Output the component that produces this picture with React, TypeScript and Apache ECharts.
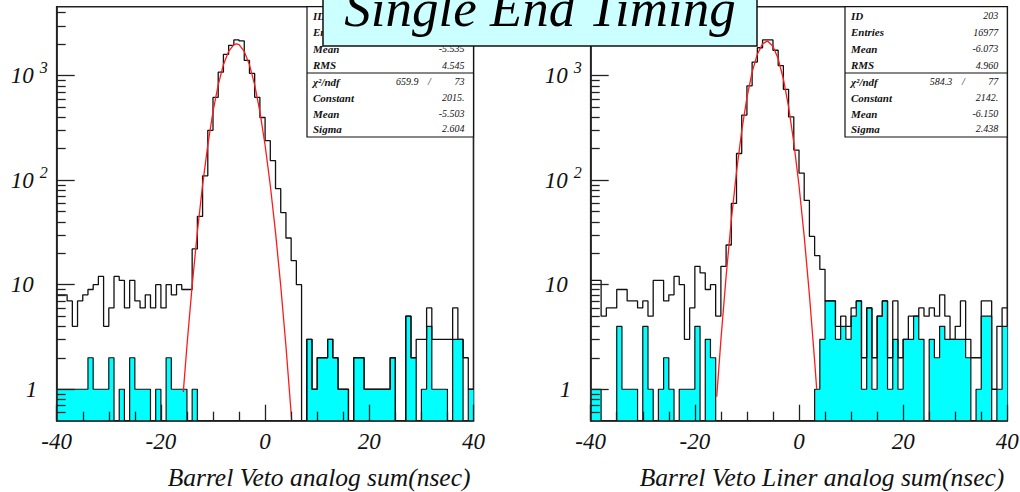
import React, { useEffect, useRef } from "react";
import * as echarts from "echarts";

// ---------- data ----------
const X_MIN = -40;
const X_MAX = 40;
const X_LABEL_STEP = 20;
const BIN_EDGES = Array.from({ length: 80 }, (_, i) => X_MIN + i); // 1 ns bins
const COUNT_MIN = 0.5;
const COUNT_MAX = 4570;
const DECADE_LABELS = [0, 1, 2, 3]; // 1, 10, 10^2, 10^3

// Left: Barrel Veto analog sum
const LEFT_TOTAL = [
  8, 8, 7, 4, 7, 8, 9, 10, 12, 4,
  6, 12, 11, 6, 11, 7, 6, 8, 6, 10,
  6, 10, 8, 10, 9, 9, 22, 45, 110, 300,
  620, 1080, 1600, 1950, 2200, 2150, 1400, 1050, 620, 398,
  239, 154, 83, 49, 28, 17, 10, 0, 3, 1,
  2, 2, 3, 2, 1, 1, 0, 2, 2, 1,
  1, 1, 1, 1, 2, 0, 0, 5, 2, 3,
  3, 6, 3, 3, 3, 3, 6, 3, 2, 1,
];
const LEFT_CYAN = [
  1, 1, 1, 1, 1, 1, 2, 1, 1, 1,
  2, 0, 1, 0, 2, 1, 1, 1, 0, 1,
  0, 2, 1, 1, 1, 0, 1, 0, 0, 0,
  0, 0, 0, 0, 0, 0, 0, 0, 0, 0,
  0, 0, 0, 0, 0, 0, 0, 0, 3, 1,
  2, 2, 3, 2, 1, 1, 0, 2, 2, 1,
  1, 1, 1, 1, 2, 0, 0, 5, 2, 0,
  1, 4, 1, 1, 1, 0, 3, 3, 0, 1,
];
const LEFT_FIT_X = [-15.7, -15, -14, -13, -12, -11, -10, -9, -8, -7, -6, -5.5, -5, -4, -3, -2, -1, 0, 1, 2, 3, 4, 5, 5.1];
const LEFT_FIT_Y = [0.94, 2.61, 9.8, 32, 89.7, 217, 454, 818, 1272, 1708, 1979, 2015, 1978, 1706, 1269, 815, 452, 216, 89, 31.7, 9.75, 2.59, 0.59, 0.5];

// Right: Barrel Veto Liner analog sum
const RIGHT_TOTAL = [
  11, 11, 5, 6, 6, 9, 9, 7, 7, 6,
  7, 5, 11, 11, 7, 8, 12, 10, 3, 6,
  15, 13, 9, 10, 5, 15, 24, 60, 180, 420,
  800, 1350, 1850, 2200, 2200, 1750, 1250, 740, 403, 194,
  117, 64, 29, 19, 14, 7, 7, 4, 5, 4,
  6, 7, 2, 6, 2, 5, 7, 2, 7, 2,
  3, 5, 5, 6, 5, 6, 5, 8, 5, 3,
  4, 7, 3, 2, 2, 7, 7, 1, 4, 6,
];
const RIGHT_CYAN = [
  1, 1, 0, 0, 0, 4, 1, 1, 1, 0,
  4, 1, 0, 1, 2, 1, 0, 1, 1, 1,
  4, 0, 3, 2, 0, 0, 0, 0, 0, 0,
  0, 0, 0, 0, 0, 0, 0, 0, 0, 0,
  0, 0, 0, 1, 3, 7, 7, 3, 4, 3,
  5, 7, 1, 6, 1, 5, 7, 1, 3, 1,
  3, 3, 5, 3, 0, 3, 2, 4, 3, 3,
  3, 3, 2, 0, 1, 5, 5, 0, 1, 4,
];
const RIGHT_FIT_X = [-15.8, -15, -14, -13, -12, -11, -10, -9, -8, -7, -6.15, -6, -5, -4, -3, -2, -1, 0, 1, 2, 3, 3.4];
const RIGHT_FIT_Y = [0.85, 2.95, 12, 41.4, 120, 296, 616, 1082, 1606, 2015, 2142, 2138, 1916, 1452, 930, 503, 230, 89, 29, 8, 1.87, 1.0];

const TITLE = "Single End Timing";
const X_NAMES = ["Barrel Veto analog sum(nsec)", "Barrel Veto Liner analog sum(nsec)"];

const STAT_LABELS = ["ID", "Entries", "Mean", "RMS"];
const FIT_LABELS = ["\u03c7\u00b2/ndf", "Constant", "Mean", "Sigma"];
const LEFT_STATS = ["", "", "-5.535", "4.545"]; // ID / Entries hidden under the title box
const LEFT_CHI = ["659.9", "73"];
const LEFT_FIT = ["2015.", "-5.503", "2.604"];
const RIGHT_STATS = ["203", "16977", "-6.073", "4.960"];
const RIGHT_CHI = ["584.3", "77"];
const RIGHT_FIT = ["2142.", "-6.150", "2.438"];

// ---------- helpers ----------
const FONT = "'Liberation Serif', 'DejaVu Serif', serif";
const Y_MIN = Math.log10(COUNT_MIN);
const Y_MAX = Math.log10(COUNT_MAX);
const ly = (v: number) => (v > 0 ? Math.max(Math.log10(v), Y_MIN) : Y_MIN);

const MINOR_TICKS: number[] = [];
for (let d = -1; d <= 3; d++) {
  for (let m = 2; m <= 9; m++) {
    const lv = Math.log10(m * Math.pow(10, d));
    if (lv > Y_MIN + 1e-6 && lv < Y_MAX) MINOR_TICKS.push(lv);
  }
}

function stepData(counts: number[]) {
  const pts = counts.map((c, i) => [BIN_EDGES[i], ly(c)]);
  pts.push([X_MAX, ly(counts[counts.length - 1])]);
  return pts;
}

const PANELS = [
  { left: 56.7, top: 6.7, width: 416.8, height: 414 },
  { left: 590.7, top: 6.7, width: 416.6, height: 414 },
];

function buildStatsBox(x0: number, y0: number, x1: number, y1: number, stats: string[], chi: string[], fit: string[]) {
  const rows = [15.5, 32, 48.5, 65, 81.5, 97.5, 113.5, 128.5];
  const lab = { fontFamily: FONT, fontStyle: "italic", fontWeight: "bold", fontSize: 11, fill: "#111" };
  const val = { fontFamily: FONT, fontStyle: "italic", fontSize: 10, fill: "#111" };
  const els: any[] = [
    { type: "rect", z: 100, shape: { x: x0, y: y0, width: x1 - x0, height: y1 - y0 }, style: { fill: "#fff", stroke: "#111", lineWidth: 1.2 } },
    { type: "line", z: 101, shape: { x1: x0, y1: 73, x2: x1, y2: 73 }, style: { stroke: "#111", lineWidth: 1.2 } },
  ];
  STAT_LABELS.forEach((t, i) => {
    els.push({ type: "text", z: 101, x: x0 + 6, y: rows[i], style: { ...lab, text: t, align: "left", verticalAlign: "middle" } });
    if (stats[i]) els.push({ type: "text", z: 101, x: x1 - 9, y: rows[i], style: { ...val, text: stats[i], align: "right", verticalAlign: "middle" } });
  });
  FIT_LABELS.forEach((t, i) => {
    els.push({ type: "text", z: 101, x: x0 + 6, y: rows[4 + i], style: { ...lab, text: t, align: "left", verticalAlign: "middle" } });
  });
  els.push({ type: "text", z: 101, x: x1 - 55, y: rows[4], style: { ...val, text: chi[0], align: "right", verticalAlign: "middle" } });
  els.push({ type: "text", z: 101, x: x1 - 44, y: rows[4], style: { ...val, text: "/", align: "center", verticalAlign: "middle" } });
  els.push({ type: "text", z: 101, x: x1 - 9, y: rows[4], style: { ...val, text: chi[1], align: "right", verticalAlign: "middle" } });
  fit.forEach((t, i) => {
    els.push({ type: "text", z: 101, x: x1 - 9, y: rows[5 + i], style: { ...val, text: t, align: "right", verticalAlign: "middle" } });
  });
  return els;
}

function buildOption(): any {
  const labelStyle = { fontFamily: FONT, fontStyle: "italic", fontSize: 23, color: "#111" };
  const tickLine = { color: "#222", width: 1.3 };
  const xAxes = PANELS.map((_, p) => ({
    gridIndex: p,
    type: "value",
    z: 10,
    min: X_MIN,
    max: X_MAX,
    interval: X_LABEL_STEP,
    axisLine: { show: true, onZero: false, lineStyle: { color: "#222", width: 1.6 } },
    axisTick: { show: true, inside: true, length: 16, lineStyle: tickLine },
    minorTick: { show: true, splitNumber: 4, length: 9, lineStyle: tickLine },
    splitLine: { show: false },
    minorSplitLine: { show: false },
    axisLabel: { ...labelStyle, margin: 9 },
  }));
  const yAxes: any[] = [];
  PANELS.forEach((_, p) => {
    yAxes.push({
      gridIndex: p,
      type: "value",
      z: 10,
      position: "left",
      offset: 0,
      min: Y_MIN,
      max: Y_MAX,
      axisLine: { show: true, onZero: false, lineStyle: { color: "#222", width: 1.6 } },
      axisTick: { show: true, inside: true, length: 18, customValues: DECADE_LABELS, lineStyle: tickLine },
      splitLine: { show: false },
      axisLabel: {
        customValues: DECADE_LABELS,
        align: "left",
        margin: 46,
        formatter: (v: number) => (v === 0 ? "{o|1}" : v === 1 ? "{b|10}" : "{b|10}{s|" + v + "}"),
        rich: {
          b: { ...labelStyle },
          o: { ...labelStyle, padding: [0, 0, 0, 15] },
          s: { ...labelStyle, fontSize: 16, padding: [0, 0, 16, 6] },
        },
      },
    });
    yAxes.push({
      gridIndex: p,
      type: "value",
      z: 10,
      position: "left",
      offset: 0,
      min: Y_MIN,
      max: Y_MAX,
      axisLine: { show: false, onZero: false },
      axisTick: { show: true, inside: true, length: 9, customValues: MINOR_TICKS, lineStyle: tickLine },
      axisLabel: { show: false },
      splitLine: { show: false },
    });
  });

  const sets = [
    { total: LEFT_TOTAL, cyan: LEFT_CYAN, fx: LEFT_FIT_X, fy: LEFT_FIT_Y },
    { total: RIGHT_TOTAL, cyan: RIGHT_CYAN, fx: RIGHT_FIT_X, fy: RIGHT_FIT_Y },
  ];
  const series: any[] = [];
  sets.forEach((s, p) => {
    series.push({
      type: "line", xAxisIndex: p, yAxisIndex: 2 * p, step: "end", symbol: "none", silent: true, z: 2,
      data: stepData(s.cyan),
      lineStyle: { color: "#111", width: 1.2 },
      areaStyle: { color: "#00ffff", opacity: 1, origin: "start" },
    });
    series.push({
      type: "line", xAxisIndex: p, yAxisIndex: 2 * p, step: "end", symbol: "none", silent: true, z: 3,
      data: stepData(s.total),
      lineStyle: { color: "#111", width: 1.3 },
    });
    series.push({
      type: "line", xAxisIndex: p, yAxisIndex: 2 * p, symbol: "none", silent: true, z: 4,
      data: s.fx.map((x, i) => [x, ly(s.fy[i])]),
      lineStyle: { color: "#ff1a1a", width: 1.3 },
    });
  });

  const nameStyle = { fontFamily: FONT, fontStyle: "italic", fontSize: 25.5, fill: "#111" };
  const graphic: any[] = [
    ...buildStatsBox(307, 6.7, 473.5, 137, LEFT_STATS, LEFT_CHI, LEFT_FIT),
    ...buildStatsBox(845, 6.7, 1007.3, 137, RIGHT_STATS, RIGHT_CHI, RIGHT_FIT),
    ...PANELS.map((g, p) => ({
      type: "text", z: 50, x: g.left + g.width - 3, y: 477,
      style: { ...nameStyle, text: X_NAMES[p], align: "right", verticalAlign: "middle" },
    })),
    { type: "rect", z: 110, shape: { x: 323, y: -6, width: 434, height: 52 }, style: { fill: "#ccffff", stroke: "#111", lineWidth: 1.5 } },
    { type: "text", z: 111, x: 540, y: 8, style: { text: TITLE, fontFamily: FONT, fontStyle: "italic", fontSize: 53, fill: "#000", align: "center", verticalAlign: "middle" } },
  ];

  return {
    animation: false,
    backgroundColor: "#ffffff",
    grid: PANELS.map((g) => ({ ...g, show: true, borderColor: "#222", borderWidth: 1.6, backgroundColor: "transparent", containLabel: false, outerBoundsMode: "none" })),
    xAxis: xAxes,
    yAxis: yAxes,
    series,
    graphic,
  };
}

export default function App() {
  const ref = useRef<HTMLDivElement>(null);
  useEffect(() => {
    const chart = echarts.init(ref.current as HTMLDivElement, null, { renderer: "svg" });
    chart.setOption(buildOption());
    return () => chart.dispose();
  }, []);
  return <div ref={ref} style={{ position: "absolute", left: 0, top: 0, width: 1020, height: 492, background: "#fff" }} />;
}
